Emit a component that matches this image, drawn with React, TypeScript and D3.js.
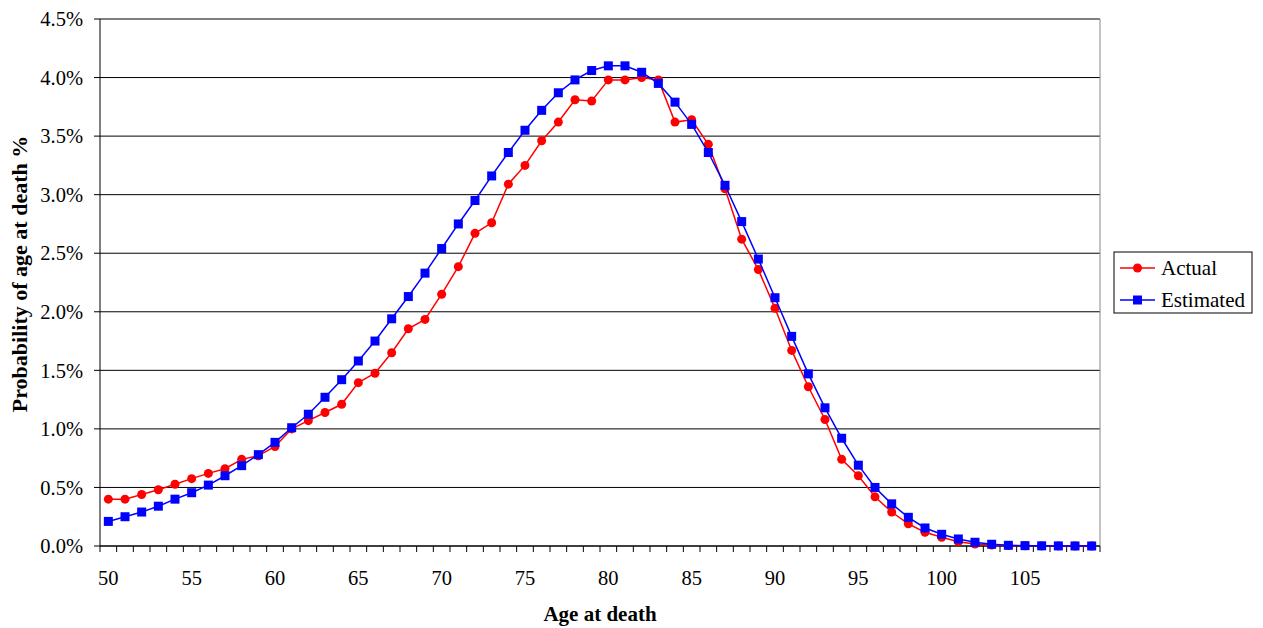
import React from "react";
import * as d3 from "d3";

const ages: number[] = d3.range(50, 110);
const actual: number[] = [
  0.40, 0.40, 0.44, 0.48, 0.527, 0.575, 0.62, 0.66, 0.74, 0.77,
  0.85, 1.00, 1.07, 1.14, 1.21, 1.395, 1.475, 1.65, 1.855, 1.935,
  2.15, 2.385, 2.67, 2.76, 3.09, 3.25, 3.46, 3.62, 3.81, 3.80,
  3.98, 3.98, 4.00, 3.98, 3.62, 3.64, 3.43, 3.05, 2.62, 2.36,
  2.03, 1.67, 1.36, 1.08, 0.74, 0.60, 0.42, 0.29, 0.19, 0.117,
  0.074, 0.037, 0.017, 0.008, 0.004, 0.002, 0.001, 0.0005, 0.0002, 0.0001,
];
const estimated: number[] = [
  0.21, 0.25, 0.29, 0.34, 0.40, 0.455, 0.52, 0.60, 0.686, 0.78,
  0.885, 1.01, 1.125, 1.27, 1.42, 1.58, 1.75, 1.94, 2.13, 2.33,
  2.54, 2.75, 2.95, 3.16, 3.36, 3.55, 3.72, 3.87, 3.98, 4.06,
  4.10, 4.10, 4.045, 3.95, 3.79, 3.60, 3.36, 3.08, 2.77, 2.45,
  2.12, 1.79, 1.47, 1.18, 0.92, 0.69, 0.50, 0.36, 0.245, 0.154,
  0.10, 0.06, 0.032, 0.015, 0.006, 0.003, 0.0015, 0.0008, 0.0004, 0.0002,
];
const yTicks: number[] = [0, 0.5, 1.0, 1.5, 2.0, 2.5, 3.0, 3.5, 4.0, 4.5];
const xLabels: number[] = [50, 55, 60, 65, 70, 75, 80, 85, 90, 95, 100, 105];

const W = 1263;
const H = 628;
const L = 100, R = 1100, T = 19, B = 546;
const font = "'Liberation Serif', 'Times New Roman', serif";

export default function App() {
  const x = d3.scaleBand<number>().domain(ages).range([L, R]).padding(0);
  const cx = (a: number) => (x(a) as number) + x.bandwidth() / 2;
  const y = d3.scaleLinear().domain([0, 4.5]).range([B, T]);
  const line = d3
    .line<number>()
    .x((_, i) => cx(ages[i]))
    .y((d) => y(d));

  return (
    <svg
      width={W}
      height={H}
      style={{ position: "absolute", left: 0, top: 0, background: "#fff" }}
      fontFamily={font}
    >
      <rect x={0} y={0} width={W} height={H} fill="#fff" />
      {/* gridlines */}
      {yTicks.map((t) => (
        <line key={"g" + t} x1={L} x2={R} y1={y(t)} y2={y(t)} stroke="#000" strokeWidth={1} />
      ))}
      {/* right border */}
      <line x1={R} x2={R} y1={T} y2={B} stroke="#888" strokeWidth={1} />
      {/* y axis */}
      <line x1={L} x2={L} y1={T} y2={B} stroke="#000" strokeWidth={1} />
      {yTicks.map((t) => (
        <g key={"y" + t}>
          <line x1={L - 6} x2={L} y1={y(t)} y2={y(t)} stroke="#000" />
          <text x={L - 17} y={y(t)} dy="0.35em" textAnchor="end" fontSize={20.5} fill="#000">
            {t.toFixed(1) + "%"}
          </text>
        </g>
      ))}
      {/* x axis */}
      <line x1={L} x2={R} y1={B} y2={B} stroke="#000" strokeWidth={1} />
      {ages.map((a) => (
        <line key={"xt" + a} x1={x(a) as number} x2={x(a) as number} y1={B} y2={B + 6} stroke="#000" />
      ))}
      <line x1={R} x2={R} y1={B} y2={B + 6} stroke="#000" />
      {xLabels.map((a) => (
        <text key={"xl" + a} x={cx(a)} y={585} textAnchor="middle" fontSize={20.5} fill="#000">
          {a}
        </text>
      ))}
      {/* axis titles */}
      <text x={600} y={621} textAnchor="middle" fontSize={21} fontWeight="bold" fill="#000">
        Age at death
      </text>
      <text
        transform={`translate(27,274) rotate(-90)`}
        textAnchor="middle"
        fontSize={22}
        fontWeight="bold"
        fill="#000"
      >
        Probability of age at death %
      </text>
      {/* series */}
      <path d={line(actual) as string} fill="none" stroke="#ff0000" strokeWidth={1.5} />
      {actual.map((v, i) => (
        <circle key={"a" + i} cx={cx(ages[i])} cy={y(v)} r={4.5} fill="#ff0000" />
      ))}
      <path d={line(estimated) as string} fill="none" stroke="#0000ff" strokeWidth={1.5} />
      {estimated.map((v, i) => (
        <rect key={"e" + i} x={cx(ages[i]) - 4.5} y={y(v) - 4.5} width={9} height={9} fill="#0000ff" />
      ))}
      {/* legend */}
      <rect x={1114} y={252} width={138} height={61} fill="#fff" stroke="#000" strokeWidth={1} />
      <line x1={1120} x2={1155} y1={268} y2={268} stroke="#ff0000" strokeWidth={1.5} />
      <circle cx={1137.5} cy={268} r={4.5} fill="#ff0000" />
      <text x={1161} y={268} dy="0.35em" fontSize={21} fill="#000">Actual</text>
      <line x1={1120} x2={1155} y1={300} y2={300} stroke="#0000ff" strokeWidth={1.5} />
      <rect x={1133} y={295.5} width={9} height={9} fill="#0000ff" />
      <text x={1161} y={300} dy="0.35em" fontSize={21} fill="#000">Estimated</text>
    </svg>
  );
}
